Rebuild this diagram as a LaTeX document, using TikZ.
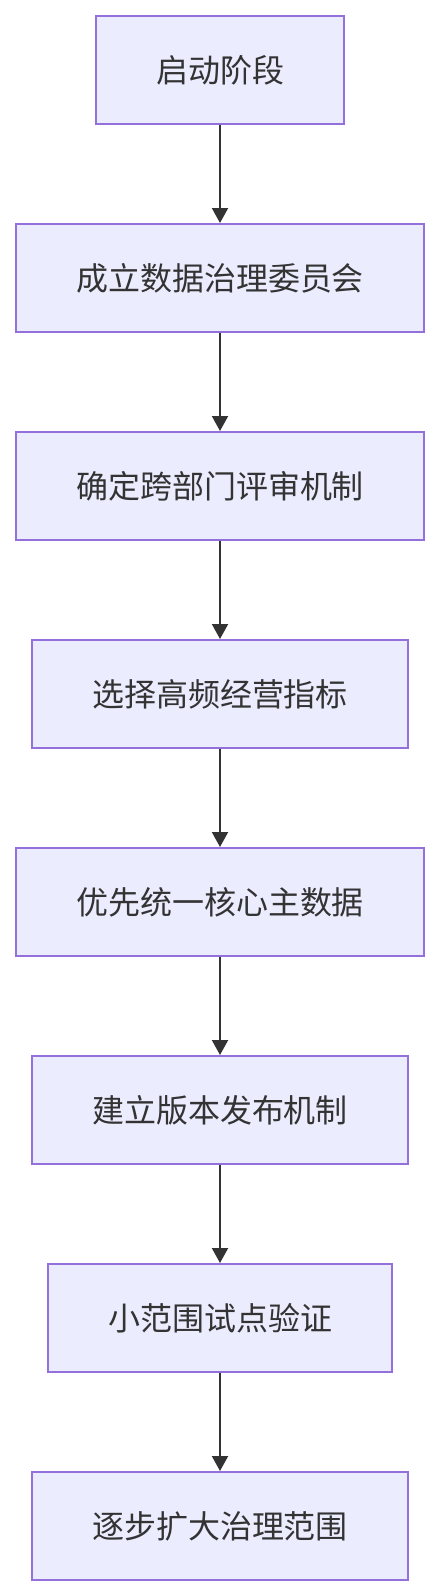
\documentclass[tikz,border=0pt]{standalone}
\usepackage{fontspec}
\setmainfont{Noto Sans CJK SC}
\usetikzlibrary{arrows.meta}
\definecolor{boxfill}{HTML}{ECECFF}
\definecolor{boxline}{HTML}{9370DB}
\definecolor{ink}{HTML}{333333}
\tikzset{
  stepbox/.style={draw=boxline, fill=boxfill, line width=2pt, minimum height=108pt, inner sep=0pt, text=ink, font=\fontsize{32pt}{38pt}\selectfont},
  flow/.style={draw=ink, line width=2pt, -{Triangle[length=15pt,width=16pt]}}
}
\begin{document}
\begin{tikzpicture}[x=1pt,y=1pt]
\useasboundingbox (0,0) rectangle (440,-1596);
\node[stepbox, minimum width=248pt] (n1) at (220,-70) {启动阶段};
\node[stepbox, minimum width=408pt] (n2) at (220,-278) {成立数据治理委员会};
\node[stepbox, minimum width=408pt] (n3) at (220,-486) {确定跨部门评审机制};
\node[stepbox, minimum width=376pt] (n4) at (220,-694) {选择高频经营指标};
\node[stepbox, minimum width=408pt] (n5) at (220,-902) {优先统一核心主数据};
\node[stepbox, minimum width=376pt] (n6) at (220,-1110) {建立版本发布机制};
\node[stepbox, minimum width=344pt] (n7) at (220,-1318) {小范围试点验证};
\node[stepbox, minimum width=376pt] (n8) at (220,-1526) {逐步扩大治理范围};
\draw[flow] (n1) -- (n2);
\draw[flow] (n2) -- (n3);
\draw[flow] (n3) -- (n4);
\draw[flow] (n4) -- (n5);
\draw[flow] (n5) -- (n6);
\draw[flow] (n6) -- (n7);
\draw[flow] (n7) -- (n8);
\end{tikzpicture}
\end{document}
